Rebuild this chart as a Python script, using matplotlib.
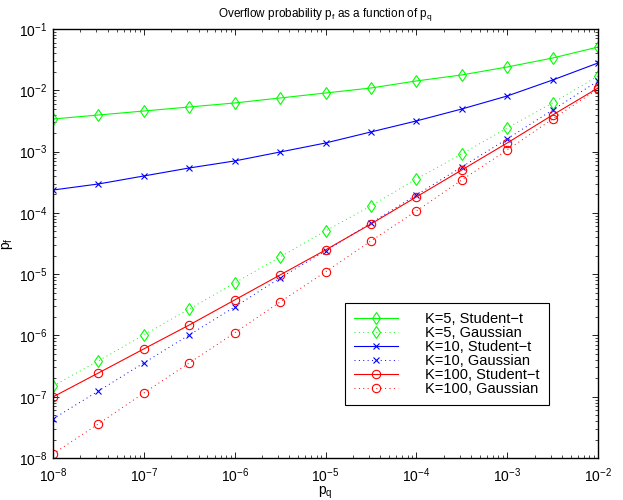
import matplotlib
matplotlib.use("Agg")
import matplotlib.pyplot as plt
import numpy as np

plt.rcParams['font.family'] = ['Liberation Sans', 'DejaVu Sans']
plt.rcParams['mathtext.fontset'] = 'custom'
plt.rcParams['mathtext.rm'] = 'Liberation Sans'
plt.rcParams['mathtext.it'] = 'Liberation Sans:italic'

# p_q values, half-decade steps from 1e-8 to 1e-2
pq_exp = [-8, -7.5, -7, -6.5, -6, -5.5, -5, -4.5, -4, -3.5, -3, -2.5, -2]
pq = [10 ** e for e in pq_exp]

k5_student = [3.40e-3, 3.95e-3, 4.59e-3, 5.34e-3, 6.21e-3, 7.49e-3, 9.03e-3,
              1.09e-2, 1.42e-2, 1.78e-2, 2.40e-2, 3.36e-2, 5.08e-2]
k5_gauss = [1.50e-7, 3.84e-7, 1.02e-6, 2.70e-6, 7.18e-6, 1.91e-5, 5.07e-5,
            1.30e-4, 3.57e-4, 9.14e-4, 2.43e-3, 6.21e-3, 1.71e-2]
k10_student = [2.36e-4, 2.96e-4, 4.00e-4, 5.40e-4, 7.03e-4, 9.84e-4, 1.38e-3,
               2.09e-3, 3.16e-3, 4.95e-3, 8.07e-3, 1.47e-2, 2.79e-2]
k10_gauss = [4.35e-8, 1.24e-7, 3.56e-7, 1.02e-6, 2.92e-6, 8.67e-6, 2.39e-5,
             6.84e-5, 1.96e-4, 5.61e-4, 1.61e-3, 4.77e-3, 1.42e-2]
k100_student = [9.93e-8, 2.44e-7, 6.03e-7, 1.48e-6, 3.79e-6, 9.70e-6, 2.48e-5,
                6.59e-5, 1.82e-4, 5.01e-4, 1.38e-3, 3.95e-3, 1.09e-2]
k100_gauss = [1.17e-8, 3.60e-8, 1.15e-7, 3.56e-7, 1.10e-6, 3.52e-6, 1.09e-5,
              3.48e-5, 1.07e-4, 3.44e-4, 1.06e-3, 3.40e-3, 1.05e-2]

labels = ['K=5, Student\u2212t', 'K=5, Gaussian', 'K=10, Student\u2212t',
          'K=10, Gaussian', 'K=100, Student\u2212t', 'K=100, Gaussian']

fig = plt.figure(figsize=(6.23, 5.0), dpi=100)
ax = fig.add_axes([0.0851, 0.084, 0.8748, 0.858])

dot = (0, (1, 3.5))
ax.loglog(pq, k5_student, '-', color=(0, 1, 0), lw=0.8, marker='d', ms=6.5,
          mfc='none', mew=0.8, label=labels[0])
ax.loglog(pq, k5_gauss, linestyle=dot, color=(0, 1, 0), lw=0.7, marker='d', ms=6.5,
          mfc='none', mew=0.8, label=labels[1])
ax.loglog(pq, k10_student, '-', color=(0, 0, 1), lw=0.8, marker='x', ms=4,
          mew=0.8, label=labels[2])
ax.loglog(pq, k10_gauss, linestyle=dot, color=(0, 0, 1), lw=0.7, marker='x', ms=4,
          mew=0.8, label=labels[3])
ax.loglog(pq, k100_student, '-', color=(1, 0, 0), lw=0.8, marker='o', ms=6,
          mfc='none', mew=0.8, label=labels[4])
ax.loglog(pq, k100_gauss, linestyle=dot, color=(1, 0, 0), lw=0.7, marker='o', ms=6,
          mfc='none', mew=0.8, label=labels[5])

ax.set_xlim(1e-8, 1e-2)
ax.set_ylim(1e-8, 1e-1)
ax.set_xticks([10.0 ** e for e in range(-8, -1)])
ax.set_yticks([10.0 ** e for e in range(-8, 0)])
ax.tick_params(which='both', direction='in', top=True, right=True, labelsize=10)
ax.tick_params(which='major', length=4.3, width=0.6)
ax.tick_params(which='minor', length=2.2, width=0.5)
ax.tick_params(axis='x', which='major', pad=6)
ax.tick_params(axis='y', which='major', pad=4)
for s in ax.spines.values():
    s.set_linewidth(1.0)

ax.set_title('Overflow probability p$_\\mathregular{f}$ as a function of p$_\\mathregular{q}$',
             fontsize=8.5, pad=9)
ax.set_xlabel('p$_\\mathregular{q}$', fontsize=10, labelpad=0)
ax.set_ylabel('p$_\\mathregular{f}$', fontsize=10, labelpad=3)

leg = ax.legend(loc='upper left', bbox_to_anchor=(0.536, 0.361), fontsize=10.5,
                frameon=True, fancybox=False, framealpha=1, edgecolor='black',
                handlelength=3.0, borderpad=0.6, labelspacing=0.0,
                handletextpad=1.9, borderaxespad=0)
leg.get_frame().set_linewidth(0.8)

fig.savefig('out.png', dpi=100)
